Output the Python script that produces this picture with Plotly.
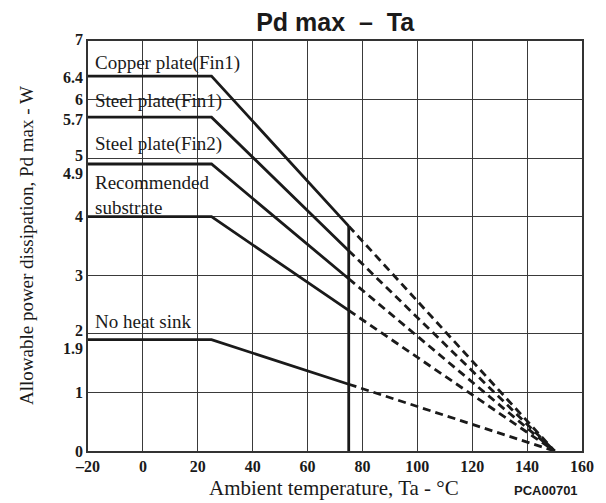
import plotly.graph_objects as go

# Data
ta_solid = [-20, 25, 75]
ta_dash = [75, 150]
series = {
    "Copper plate(Fin1)": [6.4, 6.4, 3.84, 0],
    "Steel plate(Fin1)": [5.7, 5.7, 3.42, 0],
    "Steel plate(Fin2)": [4.9, 4.9, 2.94, 0],
    "Recommended<br>substrate": [4.0, 4.0, 2.4, 0],
    "No heat sink": [1.9, 1.9, 1.14, 0],
}
label_pos = {
    "Copper plate(Fin1)": (-18.3, 6.63),
    "Steel plate(Fin1)": (-18.3, 5.98),
    "Steel plate(Fin2)": (-18.3, 5.25),
    "Recommended<br>substrate": (-18.3, 4.37),
    "No heat sink": (-18.3, 2.21),
}
limit_ta = 75
limit_pd = 3.84
x_ticks = [-20, 0, 20, 40, 60, 80, 100, 120, 140, 160]
x_ticktext = ["\u201320", "0", "20", "40", "60", "80", "100", "120", "140", "160"]
y_ticks = [0, 1, 1.9, 2, 3, 4, 4.9, 5, 5.7, 6, 6.4, 7]
y_ticktext = ["0", "1", "1.9", "2", "3", "4", "4.9", "5", "5.7", "6", "6.4", "7"]
y_label_shift = {1.9: -9, 2: 3, 4.9: -9, 5: 3, 5.7: -2, 6.4: -1, 7: 2}

serif = "Liberation Serif"
ink = "#1a1a1a"
fig = go.Figure()
for name, vals in series.items():
    fig.add_trace(go.Scatter(x=ta_solid, y=vals[:3], mode="lines",
                             line=dict(color=ink, width=2.8),
                             showlegend=False, hoverinfo="skip"))
    fig.add_trace(go.Scatter(x=ta_dash, y=vals[2:], mode="lines",
                             line=dict(color=ink, width=2.8, dash="8px,5px"),
                             showlegend=False, hoverinfo="skip"))
    lx, ly = label_pos[name]
    fig.add_annotation(x=lx, y=ly, text=name, showarrow=False, xanchor="left",
                       yanchor="middle", align="left",
                       font=dict(family=serif, size=19, color=ink))

fig.add_trace(go.Scatter(x=[limit_ta, limit_ta], y=[0, limit_pd], mode="lines",
                         line=dict(color=ink, width=2.8),
                         showlegend=False, hoverinfo="skip"))

for v, t in zip(y_ticks, y_ticktext):
    fig.add_annotation(xref="paper", yref="y", x=0, y=v, text=t, showarrow=False,
                       xanchor="right", yanchor="middle", xshift=-3,
                       yshift=y_label_shift.get(v, 0),
                       font=dict(family=serif, size=16, color=ink, weight="bold"))

# page body adds an 8px offset; figure is sized so it ends at the window edge
fig.update_layout(
    width=598, height=495,
    margin=dict(l=80, r=24, t=33, b=52),
    paper_bgcolor="white", plot_bgcolor="white",
    title=dict(text="Pd max  \u2013  Ta", x=0.547, xanchor="center",
               y=0.971, yanchor="middle",
               font=dict(family="Liberation Sans", size=25, color=ink, weight="bold")),
    xaxis=dict(range=[-20, 160], tickmode="array", tickvals=x_ticks,
               ticktext=x_ticktext, showgrid=True, gridcolor="#3a3a3a",
               gridwidth=1, zeroline=False, showline=True, linecolor="#333333",
               linewidth=2, mirror=True, ticks="", automargin=False,
               tickfont=dict(family=serif, size=16, color=ink, weight="bold")),
    yaxis=dict(range=[0, 7], tickmode="linear", tick0=0, dtick=1,
               showticklabels=False, showgrid=True, gridcolor="#3a3a3a",
               gridwidth=1, zeroline=False, automargin=False,
               showline=True, linecolor="#333333", linewidth=2, mirror=True,
               ticks=""),
)
fig.add_annotation(xref="paper", yref="paper", x=0.498, y=-0.0894,
                   xanchor="center", yanchor="middle", showarrow=False,
                   text="Ambient temperature, Ta - \u00b0C",
                   font=dict(family=serif, size=21, color=ink))
fig.add_annotation(xref="paper", yref="paper", x=-0.1255, y=0.5,
                   xanchor="center", yanchor="middle", showarrow=False,
                   textangle=-90, text="Allowable power dissipation, Pd max - W",
                   font=dict(family=serif, size=19, color=ink))
fig.add_annotation(xref="paper", yref="paper", x=0.996, y=-0.0967,
                   text="PCA00701", showarrow=False, xanchor="right",
                   yanchor="middle",
                   font=dict(family="Liberation Sans", size=13, color=ink, weight="bold"))

fig.write_html("out.html")
